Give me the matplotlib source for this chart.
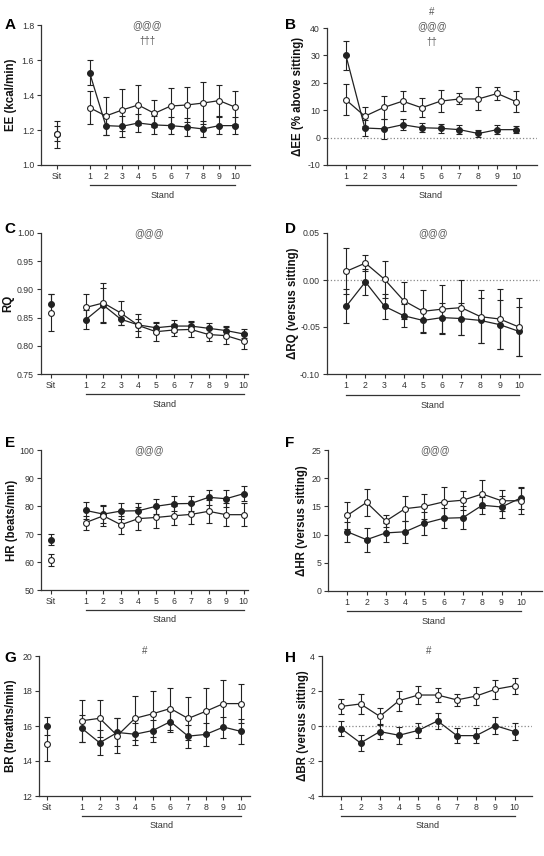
import numpy as np
import matplotlib
matplotlib.use('Agg')
import matplotlib.pyplot as plt
from matplotlib.transforms import blended_transform_factory

plt.rcParams['font.family'] = ['Liberation Sans', 'DejaVu Sans']

stand = np.arange(1, 11)
sit_x = -1

# A - energy expenditure (kcal/min)
ee_sit_f, ee_sit_f_err = 1.18, 0.045
ee_sit_o, ee_sit_o_err = 1.175, 0.075
ee_f = [1.528, 1.225, 1.221, 1.24, 1.229, 1.225, 1.217, 1.206, 1.225, 1.225]
ee_f_err = [0.07, 0.055, 0.06, 0.05, 0.05, 0.05, 0.05, 0.045, 0.05, 0.05]
ee_o = [1.328, 1.28, 1.314, 1.343, 1.295, 1.337, 1.343, 1.354, 1.368, 1.33]
ee_o_err = [0.095, 0.107, 0.12, 0.114, 0.078, 0.105, 0.1, 0.12, 0.09, 0.095]

# B - delta EE (% above sitting)
dee_f = [30.0, 3.5, 3.2, 4.7, 3.6, 3.4, 2.9, 1.5, 2.9, 2.9]
dee_f_err = [5.3, 3.0, 3.6, 2.0, 1.7, 1.6, 1.7, 1.2, 1.6, 1.4]
dee_o = [13.8, 7.8, 11.0, 13.3, 10.9, 13.3, 14.1, 14.1, 16.1, 13.1]
dee_o_err = [5.7, 3.5, 4.2, 3.7, 3.4, 3.9, 2.0, 4.2, 2.2, 3.8]

# C - RQ
rq_sit_f, rq_sit_f_err = 0.875, 0.017
rq_sit_o, rq_sit_o_err = 0.859, 0.033
rq_f = [0.8465, 0.872, 0.847, 0.837, 0.832, 0.835, 0.835, 0.831, 0.827, 0.821]
rq_f_err = [0.017, 0.03, 0.01, 0.01, 0.01, 0.01, 0.009, 0.009, 0.008, 0.008]
rq_o = [0.868, 0.876, 0.858, 0.836, 0.825, 0.828, 0.829, 0.820, 0.818, 0.8085]
rq_o_err = [0.023, 0.035, 0.022, 0.02, 0.016, 0.011, 0.013, 0.012, 0.015, 0.014]

# D - delta RQ (versus sitting)
drq_f = [-0.028, -0.002, -0.028, -0.038, -0.043, -0.040, -0.041, -0.043, -0.0475, -0.0546]
drq_f_err = [0.018, 0.014, 0.013, 0.012, 0.012, 0.016, 0.017, 0.024, 0.026, 0.026]
drq_o = [0.0092, 0.018, 0.0007, -0.022, -0.0333, -0.031, -0.0294, -0.039, -0.0415, -0.050]
drq_o_err = [0.0245, 0.0086, 0.02, 0.02, 0.023, 0.026, 0.029, 0.028, 0.032, 0.031]

# E - HR (beats/min)
hr_sit_f, hr_sit_f_err = 67.9, 2.0
hr_sit_o, hr_sit_o_err = 60.7, 2.1
hr_f = [78.4, 77.1, 78.2, 78.3, 79.9, 80.8, 80.9, 83.1, 82.6, 84.4]
hr_f_err = [2.9, 3.0, 2.7, 2.7, 2.6, 2.7, 2.8, 2.6, 3.0, 2.7]
hr_o = [74.1, 76.5, 73.3, 75.5, 75.9, 76.5, 77.0, 78.1, 76.9, 76.9]
hr_o_err = [2.5, 3.8, 3.2, 4.0, 3.8, 3.4, 3.6, 4.1, 4.0, 4.1]

# F - delta HR (versus sitting)
dhr_f = [10.5, 9.1, 10.3, 10.5, 12.0, 12.9, 13.0, 15.2, 14.9, 16.5]
dhr_f_err = [1.8, 2.1, 1.7, 2.0, 2.0, 1.8, 2.0, 1.5, 1.9, 1.9]
dhr_o = [13.4, 15.7, 12.4, 14.6, 15.0, 15.8, 16.1, 17.2, 16.0, 16.0]
dhr_o_err = [2.4, 2.4, 1.0, 2.2, 2.2, 2.6, 1.7, 2.4, 1.9, 2.3]

# G - BR (breaths/min)
br_sit_f, br_sit_f_err = 15.99, 0.5
br_sit_o, br_sit_o_err = 14.98, 1.0
br_f = [15.86, 15.04, 15.63, 15.53, 15.74, 16.25, 15.42, 15.52, 15.94, 15.69]
br_f_err = [0.78, 0.72, 0.8, 0.63, 0.63, 0.6, 0.65, 0.65, 0.6, 0.72]
br_o = [16.3, 16.44, 15.45, 16.44, 16.7, 17.0, 16.43, 16.84, 17.28, 17.28]
br_o_err = [1.2, 1.05, 1.0, 1.25, 1.3, 1.2, 1.25, 1.33, 1.35, 1.1]

# H - delta BR (versus sitting)
dbr_f = [-0.15, -0.97, -0.32, -0.53, -0.25, 0.29, -0.55, -0.55, 0.02, -0.32]
dbr_f_err = [0.42, 0.46, 0.44, 0.48, 0.42, 0.48, 0.42, 0.42, 0.5, 0.5]
dbr_o = [1.12, 1.26, 0.55, 1.45, 1.77, 1.77, 1.49, 1.71, 2.1, 2.3]
dbr_o_err = [0.44, 0.59, 0.5, 0.57, 0.53, 0.42, 0.32, 0.51, 0.53, 0.46]

W, H = 544, 856
fig = plt.figure(figsize=(W / 100, H / 100), dpi=100)

def add_ax(left, right, top, bottom):
    return fig.add_axes([left / W, 1 - bottom / H, (right - left) / W, (bottom - top) / H])

ink = '#222222'
txt = '#333333'

def series(ax, x, y, err, filled):
    ax.errorbar(x, y, yerr=err, fmt='o-', color=ink, ecolor=ink, lw=0.9,
                elinewidth=0.8, capsize=2, capthick=0.8, ms=4.2,
                mfc=ink if filled else 'white', mec=ink, mew=0.8,
                zorder=3 if filled else 4)

def sit_point(ax, y, err, filled):
    ax.errorbar([sit_x], [y], yerr=[err], fmt='o', color=ink, ecolor=ink,
                elinewidth=0.8, capsize=2, capthick=0.8, ms=4.2,
                mfc=ink if filled else 'white', mec=ink, mew=0.8,
                zorder=3 if filled else 4)

def style(ax, ylim, yticks, yfmt, xlim, xticks, xlabels, ylabel, labx, line_y, text_y):
    ax.set_ylim(*ylim)
    ax.set_yticks(yticks)
    ax.set_yticklabels([yfmt.format(v) for v in yticks])
    ax.set_xlim(*xlim)
    ax.set_xticks(xticks)
    ax.set_xticklabels(xlabels)
    for s in ['top', 'right']:
        ax.spines[s].set_visible(False)
    for s in ['left', 'bottom']:
        ax.spines[s].set_color(txt)
        ax.spines[s].set_linewidth(0.9)
    ax.tick_params(labelsize=6.3, colors=txt, length=3, width=0.8, pad=2)
    ax.set_ylabel(ylabel, fontsize=8.3, fontweight='bold', color='#111111')
    # label coords: x is the right edge of the rotated label
    ax.yaxis.set_label_coords(labx, 0.5)
    tr = blended_transform_factory(ax.transData, ax.transAxes)
    ax.plot([1, 10], [line_y, line_y], color=txt, lw=0.9, transform=tr, clip_on=False)
    ax.text(5.5, text_y, 'Stand', transform=tr, ha='center', va='center',
            fontsize=6.6, color=txt)

def notes(ax, x, items):
    for y, s in items:
        ax.text(x, y, s, transform=ax.transAxes, ha='center', va='center',
                fontsize=7, color='#555555')

sit_ticks = [-1] + list(stand)
sit_labels = ['Sit'] + [str(i) for i in stand]
st_labels = [str(i) for i in stand]

# A
ax = add_ax(41, 250, 25, 165)
sit_point(ax, ee_sit_f, ee_sit_f_err, True)
sit_point(ax, ee_sit_o, ee_sit_o_err, False)
series(ax, stand, ee_f, ee_f_err, True)
series(ax, stand, ee_o, ee_o_err, False)
style(ax, (1.0, 1.8), [1.0, 1.2, 1.4, 1.6, 1.8], '{:.1f}', (-2, 10.9), sit_ticks, sit_labels,
      'EE (kcal/min)', -0.115, -0.143, -0.221)
notes(ax, 0.507, [(1.0, '@@@'), (0.886, '†††')])

# B
ax = add_ax(327, 537, 28, 165)
ax.axhline(0, color='#888888', ls=':', lw=0.9, zorder=1)
series(ax, stand, dee_f, dee_f_err, True)
series(ax, stand, dee_o, dee_o_err, False)
style(ax, (-10, 40), [-10, 0, 10, 20, 30, 40], '{:d}', (0, 11.1), stand, st_labels,
      'ΔEE (% above sitting)', -0.11, -0.146, -0.226)
notes(ax, 0.5, [(1.117, '#'), (1.015, '@@@'), (0.898, '††')])

# C
ax = add_ax(41, 248, 233, 374)
sit_point(ax, rq_sit_f, rq_sit_f_err, True)
sit_point(ax, rq_sit_o, rq_sit_o_err, False)
series(ax, stand, rq_f, rq_f_err, True)
series(ax, stand, rq_o, rq_o_err, False)
style(ax, (0.75, 1.0), [0.75, 0.80, 0.85, 0.90, 0.95, 1.00], '{:.2f}', (-1.56, 10.25),
      sit_ticks, sit_labels, 'RQ', -0.13, -0.142, -0.213)
notes(ax, 0.52, [(1.0, '@@@')])

# D
ax = add_ax(327, 540, 233, 374)
ax.axhline(0, color='#888888', ls=':', lw=0.9, zorder=1)
series(ax, stand, drq_f, drq_f_err, True)
series(ax, stand, drq_o, drq_o_err, False)
style(ax, (-0.10, 0.05), [-0.10, -0.05, 0.00, 0.05], '{:.2f}', (0, 11.1), stand, st_labels,
      'ΔRQ (versus sitting)', -0.131, -0.149, -0.22)
notes(ax, 0.5, [(1.0, '@@@')])

# E
ax = add_ax(41, 248, 450, 590)
sit_point(ax, hr_sit_f, hr_sit_f_err, True)
sit_point(ax, hr_sit_o, hr_sit_o_err, False)
series(ax, stand, hr_f, hr_f_err, True)
series(ax, stand, hr_o, hr_o_err, False)
style(ax, (50, 100), [50, 60, 70, 80, 90, 100], '{:d}', (-1.56, 10.25), sit_ticks, sit_labels,
      'HR (beats/min)', -0.11, -0.143, -0.214)
notes(ax, 0.52, [(1.0, '@@@')])

# F
ax = add_ax(328, 542, 450, 591)
series(ax, stand, dhr_f, dhr_f_err, True)
series(ax, stand, dhr_o, dhr_o_err, False)
style(ax, (0, 25), [0, 5, 10, 15, 20, 25], '{:d}', (0, 11.1), stand, st_labels,
      'ΔHR (versus sitting)', -0.093, -0.142, -0.213)
notes(ax, 0.5, [(1.0, '@@@')])

# G
ax = add_ax(39, 250, 656, 796)
sit_point(ax, br_sit_f, br_sit_f_err, True)
sit_point(ax, br_sit_o, br_sit_o_err, False)
series(ax, stand, br_f, br_f_err, True)
series(ax, stand, br_o, br_o_err, False)
style(ax, (12, 20), [12, 14, 16, 18, 20], '{:d}', (-1.43, 10.5), sit_ticks, sit_labels,
      'BR (breaths/min)', -0.104, -0.143, -0.214)
notes(ax, 0.5, [(1.036, '#')])

# H
ax = add_ax(322, 532, 656, 796)
ax.axhline(0, color='#888888', ls=':', lw=0.9, zorder=1)
series(ax, stand, dbr_f, dbr_f_err, True)
series(ax, stand, dbr_o, dbr_o_err, False)
style(ax, (-4, 4), [-4, -2, 0, 2, 4], '{:d}', (0, 10.9), stand, st_labels,
      'ΔBR (versus sitting)', -0.062, -0.143, -0.214)
notes(ax, 0.51, [(1.036, '#')])

# panel letters
for letter, x, y in [('A', 10, 25), ('B', 290, 25), ('C', 10, 229), ('D', 290, 229),
                     ('E', 10, 443), ('F', 290, 443), ('G', 10, 658), ('H', 290, 658)]:
    fig.text(x / W, 1 - y / H, letter, ha='center', va='center', fontsize=11,
             fontweight='bold', color='black')

fig.savefig('out.png', dpi=100, facecolor='white')
